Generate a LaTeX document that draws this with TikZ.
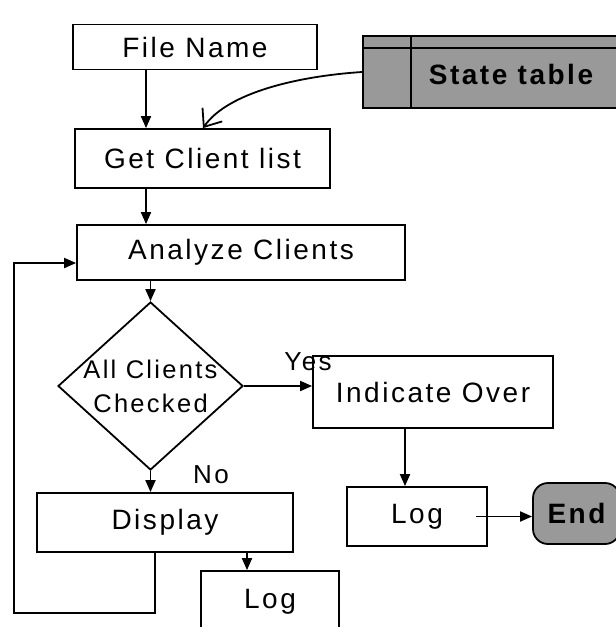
\documentclass[tikz,border=0pt]{standalone}
\usepackage{fontspec}
\setmainfont{Liberation Sans}[LetterSpace=9]
\usetikzlibrary{shapes.geometric,arrows.meta,calc}
\tikzset{
  box/.style={draw=black, line width=1.8pt, rectangle, inner sep=0pt,
    font=\fontsize{28}{33}\selectfont},
  shade/.style={fill=black!40},
  decide/.style={draw=black, line width=1.8pt, diamond, inner sep=0pt,
    minimum width=185pt, minimum height=168pt},
  arr/.style={line width=1.8pt, -{Triangle[length=12pt,width=10pt]}},
  lbl/.style={font=\fontsize{26}{30}\selectfont, inner sep=0pt},
}
\begin{document}
\begin{tikzpicture}[x=1pt, y=-1pt]
\useasboundingbox (0,0) rectangle (616,627);
\clip (0,0) rectangle (616,627);

% process boxes
\node[box, minimum width=244pt, minimum height=45pt] (fname) at (195,47) {File Name};
\node[box, minimum width=255pt, minimum height=59pt] (getcl) at (202.5,158.5) {Get Client list};
\node[box, minimum width=328pt, minimum height=55pt] (analyze) at (241,252.5) {Analyze Clients};
\node[decide, label={[align=center, inner sep=0pt, font=\fontsize{25.5}{34}\selectfont]center:All Clients\\Checked}] (dec) at (150.5,386) {};
\node[box, minimum width=240pt, minimum height=72pt] (indicate) at (433,392) {Indicate Over};
\node[box, minimum width=256pt, minimum height=59pt] (disp) at (165,522.5) {Display};
\node[box, minimum width=138pt, minimum height=62pt] (logA) at (270,602) {Log};
\node[box, minimum width=140pt, minimum height=59pt] (logB) at (417,516.5) {Log};
\node[box, shade, rounded corners=15pt, minimum width=87pt, minimum height=61pt,
  font=\fontsize{28}{33}\selectfont\bfseries] (endn) at (576.5,513.5) {End};

% data store: table with header row and index column
\node[box, shade, minimum width=296pt, minimum height=72pt,
  font=\fontsize{28}{33}\selectfont\bfseries, text depth=0pt] (state) at (511,72) {\raisebox{-4pt}{State table}};
\draw[line width=1.8pt] ($(state.north west)+(0,13)$) -- ($(state.north east)+(0,13)$);
\draw[line width=1.8pt] ($(state.north west)+(49,0)$) -- ($(state.south west)+(49,0)$);

% branch labels
\node[lbl] (yes) at (308,362) {Yes};
\node[lbl] (no) at (211,475) {No};

% connectors
\draw[arr] ([xshift=-49pt]fname.south) -- ([xshift=-49pt]fname.south |- getcl.north);
\draw[line width=1.8pt, -{Straight Barb[length=15pt,width=24pt]}]
  (state.west) .. controls (300,76) and (228,92) .. ([xshift=0.5pt]getcl.north);
\draw[arr] ([xshift=-56.5pt]getcl.south) -- ([xshift=-56.5pt]getcl.south |- analyze.north);
\draw[arr] (dec.north |- analyze.south) -- (dec.north);
\draw[arr] (dec.east) -- (dec.east -| indicate.west);
\draw[arr] (dec.south) -- (dec.south |- disp.north);
\draw[arr] ([xshift=-23pt]logA.north |- disp.south) -- ([xshift=-23pt]logA.north);
\coordinate (loopc) at (14,613);
\draw[arr] ([xshift=-10pt]disp.south) |- (loopc) |- ([yshift=-10.5pt]analyze.west);
\draw[arr] ([xshift=-28pt]indicate.south) -- ([xshift=-28pt]indicate.south |- logB.north);
\draw[arr] ([xshift=-12pt]logB.east) -- (logB.east -| endn.west);
\end{tikzpicture}
\end{document}
